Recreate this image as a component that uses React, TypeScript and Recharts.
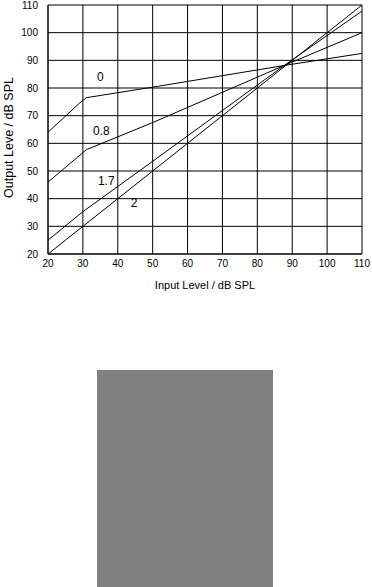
import React from "react";
import { LineChart, Line, XAxis, YAxis, CartesianGrid, ReferenceDot, Label } from "recharts";

const xTicks = [20, 30, 40, 50, 60, 70, 80, 90, 100, 110];
const yTicks = [20, 30, 40, 50, 60, 70, 80, 90, 100, 110];

// [input, output] points
const curve0 = [[20, 64], [29, 74.5], [31, 76.5], [50, 80.3], [88, 88.2], [110, 92.5]];
const curve08 = [[20, 46], [31, 57.7], [50, 67.5], [88, 88.3], [110, 100]];
const curve17 = [[20, 25], [30, 35.3], [50, 53.5], [88, 88.4], [110, 107.8]];
const curve2 = [[20, 20], [110, 110]];

const curveLabels = [
  { text: "0", x: 35, y: 84 },
  { text: "0.8", x: 35.3, y: 64.5 },
  { text: "1.7", x: 36.7, y: 46.5 },
  { text: "2", x: 44.7, y: 38.5 },
];

const toPts = (c: number[][]) => c.map(([x, y]) => ({ x, y }));

const font = "Liberation Sans, Arial, Helvetica, sans-serif";

const YTitle = (props: any) => {
  const vb = props.viewBox || {};
  const cy = (vb.y ?? 0) + (vb.height ?? 0) / 2 + 8;
  return (
    <text x={9} y={cy} transform={`rotate(-90, 9, ${cy})`} textAnchor="middle" dominantBaseline="central" fill="#000" fontSize={12.5} fontFamily={font}>
      Output Leve / dB SPL
    </text>
  );
};

export default function App() {
  return (
    <div style={{ position: "absolute", left: 0, top: 0, width: 372, height: 587, background: "#fff" }}>
      <LineChart width={372} height={310} margin={{ top: 5, right: 10, left: 0, bottom: 26 }}>
        <CartesianGrid stroke="#000" strokeWidth={1} />
        <XAxis
          type="number"
          dataKey="x"
          domain={[20, 110]}
          ticks={xTicks}
          interval={0}
          tickLine={false}
          axisLine={{ stroke: "#000" }}
          height={30}
          tick={{ fill: "#000", fontSize: 10, fontFamily: font }}
          tickMargin={0}
        >
          <Label value="Input Level / dB SPL" position="bottom" offset={-3} style={{ fill: "#000", fontSize: 11, fontFamily: font }} />
        </XAxis>
        <YAxis
          type="number"
          domain={[20, 110]}
          ticks={yTicks}
          interval={0}
          tickLine={false}
          axisLine={{ stroke: "#000" }}
          width={48}
          tick={{ fill: "#000", fontSize: 10, fontFamily: font }}
          tickMargin={4}
        >
          <Label content={YTitle} />
        </YAxis>
        <Line data={toPts(curve0)} dataKey="y" type="linear" stroke="#000" strokeWidth={1} dot={false} isAnimationActive={false} />
        <Line data={toPts(curve08)} dataKey="y" type="linear" stroke="#000" strokeWidth={1} dot={false} isAnimationActive={false} />
        <Line data={toPts(curve17)} dataKey="y" type="linear" stroke="#000" strokeWidth={1} dot={false} isAnimationActive={false} />
        <Line data={toPts(curve2)} dataKey="y" type="linear" stroke="#000" strokeWidth={1} dot={false} isAnimationActive={false} />
        {curveLabels.map((l) => (
          <ReferenceDot key={l.text} x={l.x} y={l.y} r={0} fill="none" stroke="none">
            <Label value={l.text} position="center" style={{ fill: "#000", fontSize: 12, fontFamily: font }} />
          </ReferenceDot>
        ))}
      </LineChart>
      <div style={{ position: "absolute", left: 97, top: 370, width: 176, height: 217, background: "#808080" }} />
    </div>
  );
}
